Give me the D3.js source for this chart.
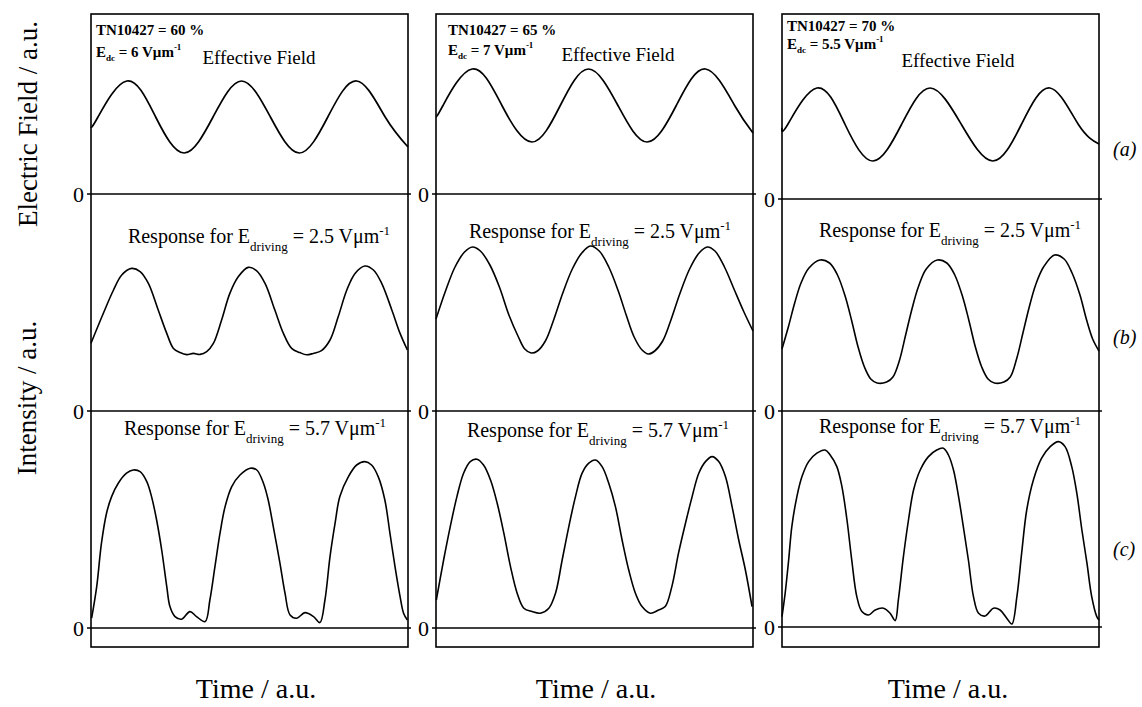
<!DOCTYPE html>
<html><head><meta charset="utf-8">
<script src="https://cdn.jsdelivr.net/npm/d3@7"></script>
<style>body{margin:0;background:#fff}svg{display:block}text{font-family:"Liberation Serif","Times New Roman",serif;fill:#000}</style>
</head><body><svg id="c" width="1142" height="707"></svg>
<script>
// ---------- data (time as fraction of window, values in a.u.) ----------
const concentrations = ["60", "65", "70"];
const edcValues = ["6", "7", "5.5"];
const drivingValues = ["2.5", "5.7"];
const rowLabels = ["(a)", "(b)", "(c)"];
const zeroTick = ["0"];
const xTitle = "Time / a.u.";
const yTitleTop = "Electric Field / a.u.";
const yTitleBottom = "Intensity / a.u.";

const field60 = [[0,33.5],[0.022,38.5],[0.113,56.5],[0.204,38.5],[0.294,20.5],[0.385,38.5],[0.475,56.5],[0.566,38.5],[0.657,20.5],[0.747,38.5],[0.838,56.5],[0.928,38.5],[1.0,23.5]];
const field65 = [[0,38.5],[0.022,44.25],[0.114,62.5],[0.208,44.25],[0.303,26],[0.392,44.25],[0.481,62.5],[0.574,44.25],[0.666,26],[0.758,44.25],[0.850,62.5],[0.942,44.25],[1.0,30.5]];
const field70 = [[0,35.6],[0.018,37.25],[0.110,55.5],[0.199,37.25],[0.287,19],[0.377,37.25],[0.467,55.5],[0.566,37.25],[0.665,19],[0.755,37.25],[0.845,55.5],[0.935,37.25],[1.0,27.5]];

const resp60low = [[0,33.9],[0.039,48.9],[0.071,60.5],[0.097,68],[0.128,71.3],[0.155,69.7],[0.181,63.8],[0.212,50.5],[0.239,38.8],[0.260,31.3],[0.281,29.2],[0.302,28.2],[0.323,28.8],[0.344,28.3],[0.365,29.7],[0.386,33.8],[0.412,45.5],[0.438,58.8],[0.465,67.2],[0.496,71.8],[0.522,70.2],[0.549,63.8],[0.580,50.5],[0.607,38.8],[0.633,31.3],[0.659,29.2],[0.680,28.1],[0.701,28.8],[0.727,30.2],[0.754,35.5],[0.780,47.2],[0.807,60.5],[0.833,68.8],[0.864,72.5],[0.891,70.5],[0.917,63.8],[0.949,50.5],[0.975,38.8],[0.998,30.5]];
const resp65low = [[0,46],[0.03,60],[0.06,72],[0.09,79.5],[0.115,82],[0.14,80],[0.17,73],[0.20,62],[0.23,48],[0.26,37],[0.28,31],[0.30,29],[0.32,30],[0.345,35],[0.37,45],[0.40,59],[0.43,71],[0.46,79],[0.487,82.5],[0.515,80],[0.545,72],[0.575,60],[0.60,48],[0.625,37],[0.65,30.5],[0.67,28.5],[0.69,30],[0.715,35],[0.74,45],[0.77,59],[0.80,71],[0.83,79],[0.856,82],[0.88,80],[0.91,72],[0.94,61],[0.97,50],[1.0,40]];
const resp70low = [[0,31],[0.02,42],[0.04,54],[0.06,64],[0.085,71.5],[0.12,75.5],[0.15,74],[0.175,68],[0.20,57],[0.22,45],[0.24,32],[0.26,22],[0.28,16],[0.30,14],[0.33,14.5],[0.35,17],[0.37,25],[0.39,38],[0.41,51],[0.43,62],[0.455,71],[0.49,75.5],[0.52,74],[0.545,68],[0.57,57],[0.59,45],[0.61,32],[0.63,22],[0.65,16],[0.67,14],[0.70,14.5],[0.72,17],[0.74,26],[0.76,39],[0.78,52],[0.80,63],[0.825,72],[0.86,78],[0.89,76],[0.915,69],[0.94,58],[0.96,46],[0.98,36],[1.0,30]];

const resp60high = [[0.002,4.9],[0.018,20.7],[0.033,42.4],[0.049,57.4],[0.065,65.7],[0.086,72.4],[0.112,77.4],[0.133,79],[0.155,78.2],[0.176,73.2],[0.191,65.7],[0.207,54],[0.223,39],[0.239,20.7],[0.249,10.7],[0.265,5.7],[0.286,4.4],[0.312,8.2],[0.333,5.7],[0.360,3.2],[0.375,14],[0.391,30.7],[0.407,47.4],[0.423,60.7],[0.444,70.7],[0.470,76.5],[0.502,79.9],[0.523,79],[0.544,72.4],[0.559,64],[0.575,50.7],[0.596,32.4],[0.612,17.4],[0.628,6.5],[0.649,4.9],[0.675,7.7],[0.702,5.7],[0.722,2.7],[0.738,14],[0.754,35.7],[0.770,52.4],[0.785,65.7],[0.812,75.7],[0.838,81.5],[0.864,83.2],[0.885,81.5],[0.906,75.7],[0.927,64],[0.943,47.4],[0.959,30.7],[0.975,15.7],[0.986,7.4],[0.998,4]];
const resp65high = [[0.001,14],[0.024,34],[0.045,50.7],[0.066,65.7],[0.087,77.4],[0.108,83.2],[0.129,84.4],[0.150,81.5],[0.172,74],[0.193,62.4],[0.214,47.4],[0.235,30.7],[0.256,17.4],[0.277,9.9],[0.303,8.2],[0.329,7.4],[0.356,9.9],[0.377,17.4],[0.398,34],[0.419,50.7],[0.440,65.7],[0.461,77.4],[0.482,82.4],[0.503,84],[0.524,80.7],[0.545,72.4],[0.566,60.7],[0.587,44],[0.608,29],[0.629,17.4],[0.650,10.7],[0.676,7.4],[0.702,9],[0.723,10.7],[0.744,20.7],[0.765,37.4],[0.787,52.4],[0.808,65.7],[0.829,77.4],[0.850,83.2],[0.871,85.7],[0.892,83.2],[0.913,75.7],[0.934,60.7],[0.955,44],[0.976,29],[0.997,10.7]];
const resp70high = [[0,5.2],[0.010,16.9],[0.021,33.5],[0.031,50.2],[0.047,65.2],[0.063,75.2],[0.084,82.7],[0.110,86.9],[0.136,88.5],[0.152,86],[0.173,80.2],[0.189,70.2],[0.205,53.5],[0.220,33.5],[0.236,15.2],[0.252,7.7],[0.273,6],[0.294,8.5],[0.320,9.4],[0.341,6.9],[0.357,3.2],[0.367,13.5],[0.383,35.2],[0.399,53.5],[0.415,68.5],[0.436,78.5],[0.462,85.2],[0.488,88.5],[0.509,89.4],[0.525,86],[0.541,78.5],[0.557,65.2],[0.572,50.2],[0.588,33.5],[0.604,15.2],[0.620,6.9],[0.641,5.5],[0.667,9.4],[0.688,8.5],[0.709,4.4],[0.725,1.5],[0.741,15.2],[0.756,36.9],[0.772,58.5],[0.793,73.5],[0.819,84.4],[0.846,90.2],[0.872,92.7],[0.893,90.2],[0.914,80.2],[0.930,66.9],[0.946,48.5],[0.962,31.9],[0.977,15.2],[0.993,5.2],[1.0,3.5]];

const series = [
  [field60, resp60low, resp60high],
  [field65, resp65low, resp65high],
  [field70, resp70low, resp70high]
];

// ---------- layout ----------
const svg = d3.select("#c");
const TOP = 14, BOTTOM = 647;
const panels = [
  {left: 91, right: 408, zeros: [194, 411, 628], tn: [96, 35], edc: [96, 57], eff: [259, 64], rb: [259, 243], rc: [255, 435], time: 256},
  {left: 436, right: 753, zeros: [194, 411, 628], tn: [448, 35], edc: [448, 55], eff: [618, 61], rb: [600, 238], rc: [598, 437], time: 596},
  {left: 782, right: 1099, zeros: [199, 411, 627], tn: [787, 31], edc: [787, 49], eff: [958, 67], rb: [950, 237], rc: [950, 433], time: 948}
];
const rowLabelY = [156, 344, 556];

panels.forEach((p, i) => {
  const g = svg.append("g");
  const x = d3.scaleLinear().domain([0, 1]).range([p.left, p.right]);
  g.append("rect").attr("x", p.left).attr("y", TOP).attr("width", p.right - p.left).attr("height", BOTTOM - TOP)
    .attr("fill", "none").attr("stroke", "#000").attr("stroke-width", 1.6);
  p.zeros.forEach((z, r) => {
    const y = d3.scaleLinear().domain([0, 100]).range([z, z - 200]);
    g.append("line").attr("x1", p.left - 4).attr("x2", p.right + 3).attr("y1", y(0)).attr("y2", y(0))
      .attr("stroke", "#000").attr("stroke-width", 1.6);
    g.append("text").attr("x", p.left - 7).attr("y", y(0) + 8).attr("text-anchor", "end")
      .attr("font-size", 22).text(zeroTick[0]);
    const line = d3.line().x(d => x(d[0])).y(d => y(d[1]))
      .curve(r === 0 ? d3.curveNatural : d3.curveCatmullRom.alpha(0.5));
    g.append("path").datum(series[i][r]).attr("d", line).attr("fill", "none")
      .attr("stroke", "#000").attr("stroke-width", r === 0 ? 1.7 : 1.6).attr("stroke-linejoin", "round");
  });
  g.append("text").attr("x", p.tn[0]).attr("y", p.tn[1]).attr("font-size", 15).attr("font-weight", "bold")
    .text("TN10427 = " + concentrations[i] + " %");
  const e = g.append("text").attr("x", p.edc[0]).attr("y", p.edc[1]).attr("font-size", 15).attr("font-weight", "bold");
  e.append("tspan").text("E");
  e.append("tspan").attr("font-size", 9).attr("dy", 4).text("dc");
  e.append("tspan").attr("dy", -4).text(" = " + edcValues[i] + " V\u03bcm");
  e.append("tspan").attr("font-size", 9).attr("dy", -7).text("-1");
  g.append("text").attr("x", p.eff[0]).attr("y", p.eff[1]).attr("text-anchor", "middle").attr("font-size", 19)
    .text("Effective Field");
  [p.rb, p.rc].forEach((pos, k) => {
    const t = g.append("text").attr("x", pos[0]).attr("y", pos[1]).attr("text-anchor", "middle").attr("font-size", 20);
    t.append("tspan").text("Response for E");
    t.append("tspan").attr("font-size", 13).attr("dy", 8).text("driving");
    t.append("tspan").attr("dy", -8).text(" = " + drivingValues[k] + " V\u03bcm");
    t.append("tspan").attr("font-size", 13).attr("dy", -8).text("-1");
  });
  g.append("text").attr("x", p.time).attr("y", 698).attr("text-anchor", "middle").attr("font-size", 28).text(xTitle);
});

rowLabels.forEach((l, r) => {
  svg.append("text").attr("x", 1113).attr("y", rowLabelY[r]).attr("font-size", 20).attr("font-style", "italic").text(l);
});

svg.append("text").attr("transform", "translate(37,124) rotate(-90)").attr("text-anchor", "middle")
  .attr("font-size", 27).text(yTitleTop);
svg.append("text").attr("transform", "translate(36,398) rotate(-90)").attr("text-anchor", "middle")
  .attr("font-size", 27).text(yTitleBottom);
</script></body></html>
